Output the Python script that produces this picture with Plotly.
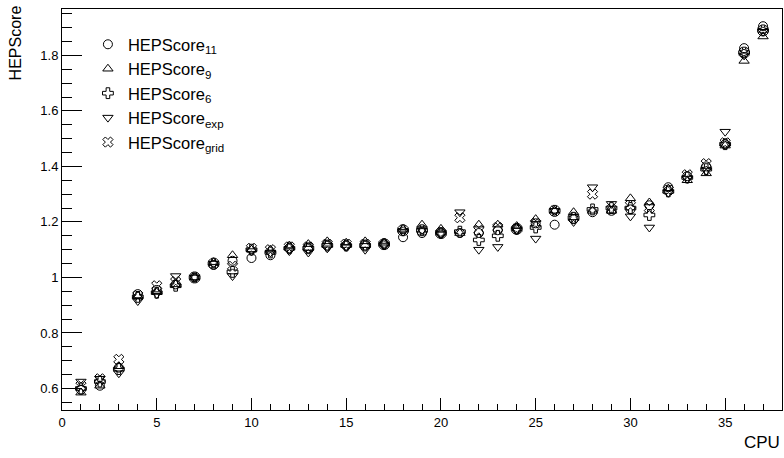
import plotly.graph_objects as go

cpu = list(range(1, 38))

hep11 = [0.595, 0.61, 0.675, 0.94, 0.955, 0.975, 1.0, 1.045, 1.06, 1.07,
         1.08, 1.105, 1.105, 1.115, 1.115, 1.115, 1.12, 1.145, 1.16, 1.16,
         1.16, 1.16, 1.17, 1.175, 1.195, 1.19, 1.21, 1.235, 1.24, 1.245,
         1.26, 1.325, 1.365, 1.40, 1.48, 1.826, 1.905]
hep9 = [0.585, 0.61, 0.68, 0.935, 0.95, 0.975, 1.0, 1.055, 1.08, 1.10,
        1.10, 1.115, 1.12, 1.13, 1.125, 1.13, 1.125, 1.175, 1.19, 1.175,
        1.16, 1.19, 1.19, 1.185, 1.21, 1.24, 1.235, 1.24, 1.24, 1.285,
        1.27, 1.32, 1.35, 1.375, 1.475, 1.78, 1.868]
hep6 = [0.60, 0.625, 0.67, 0.93, 0.945, 0.97, 1.0, 1.05, 1.02, 1.10,
        1.09, 1.105, 1.105, 1.115, 1.115, 1.115, 1.12, 1.17, 1.17, 1.16,
        1.165, 1.135, 1.15, 1.175, 1.18, 1.24, 1.215, 1.245, 1.25, 1.25,
        1.225, 1.31, 1.36, 1.39, 1.48, 1.81, 1.89]
hepexp = [0.625, 0.635, 0.655, 0.915, 0.94, 1.005, 1.0, 1.05, 1.005, 1.095,
          1.09, 1.095, 1.09, 1.105, 1.11, 1.10, 1.115, 1.165, 1.17, 1.155,
          1.235, 1.10, 1.11, 1.17, 1.14, 1.24, 1.20, 1.325, 1.265, 1.22,
          1.18, 1.305, 1.355, 1.385, 1.525, 1.80, 1.885]
hepgrid = [0.61, 0.635, 0.705, 0.935, 0.97, 0.985, 1.0, 1.05, 1.04, 1.105,
           1.10, 1.11, 1.11, 1.12, 1.12, 1.12, 1.12, 1.17, 1.17, 1.16,
           1.215, 1.17, 1.18, 1.175, 1.195, 1.24, 1.215, 1.30, 1.245, 1.26,
           1.25, 1.315, 1.37, 1.41, 1.485, 1.81, 1.89]

series = [
    ("HEPScore<sub>11</sub>", hep11, "circle-open"),
    ("HEPScore<sub>9</sub>", hep9, "triangle-up-open"),
    ("HEPScore<sub>6</sub>", hep6, "cross-open"),
    ("HEPScore<sub>exp</sub>", hepexp, "triangle-down-open"),
    ("HEPScore<sub>grid</sub>", hepgrid, "x-open"),
]

fig = go.Figure()
for name, vals, sym in series:
    fig.add_trace(go.Scatter(
        x=cpu, y=vals, mode="markers", name=name,
        marker=dict(symbol=sym, size=9, color="black",
                    line=dict(width=1, color="black")),
    ))

font_family = "Liberation Sans, Arial, sans-serif"

fig.update_layout(
    width=784, height=458,
    margin=dict(l=62, r=2, t=9, b=48),
    paper_bgcolor="white", plot_bgcolor="white",
    font=dict(family=font_family, color="black", size=13),
    showlegend=True,
    legend=dict(x=0.036, y=0.955, xanchor="left", yanchor="top",
                bgcolor="rgba(0,0,0,0)", borderwidth=0,
                font=dict(size=16.5), itemwidth=30, tracegroupgap=0),
    xaxis=dict(range=[0, 38], showgrid=False, zeroline=False,
               showline=True, mirror=True, linecolor="black", linewidth=1,
               ticks="inside", ticklen=12, tickwidth=1, tickcolor="black",
               dtick=5, tick0=0,
               minor=dict(ticks="inside", ticklen=6, dtick=1, tickcolor="black", showgrid=False),
               tickfont=dict(size=13)),
    yaxis=dict(range=[0.5225, 1.967], showgrid=False, zeroline=False,
               showline=True, mirror=True, linecolor="black", linewidth=1,
               ticks="inside", ticklen=20, tickwidth=1, tickcolor="black",
               dtick=0.2, tick0=0,
               minor=dict(ticks="inside", ticklen=10, dtick=0.05, tickcolor="black", showgrid=False),
               tickfont=dict(size=13)),
    annotations=[
        dict(text="CPU", xref="paper", yref="paper", x=1.0, y=-0.08,
             xanchor="right", yanchor="middle", showarrow=False,
             font=dict(size=17)),
        dict(text="HEPScore", xref="paper", yref="paper", x=-0.064, y=1.015,
             xanchor="center", yanchor="top", textangle=-90, showarrow=False,
             font=dict(size=16)),
    ],
)

fig.write_html("out.html", config={"displayModeBar": False},
               post_script="document.body.style.margin='0px';document.body.style.padding='0px';")
